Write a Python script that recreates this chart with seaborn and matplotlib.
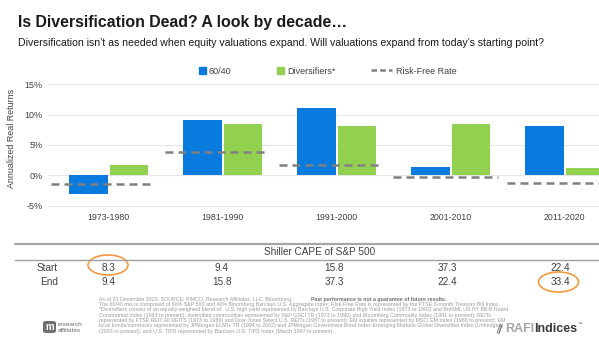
import matplotlib
matplotlib.use("Agg")
import matplotlib.pyplot as plt
import matplotlib.transforms as mtrans
from matplotlib.patches import Patch, Ellipse, FancyBboxPatch
from matplotlib.lines import Line2D
from matplotlib.ticker import FuncFormatter
import seaborn as sns
import pandas as pd

# ---------------- data ----------------
decades = ["1973-1980", "1981-1990", "1991-2000", "2001-2010", "2011-2020"]
sixty_forty = [-3.0, 9.2, 11.1, 1.4, 8.2]
diversifiers = [1.7, 8.5, 8.1, 8.5, 1.2]
risk_free = [-1.5, 3.9, 1.7, -0.3, -1.2]
cape_start = ["8.3", "9.4", "15.8", "37.3", "22.4"]
cape_end = ["9.4", "15.8", "37.3", "22.4", "33.4"]
series_names = ["60/40", "Diversifiers*"]
yticks = [-5, 0, 5, 10, 15]

BLUE = "#0A7BDE"
GREEN = "#92D050"
GRAY_RF = "#808080"
TXT = "#404040"
ORANGE = "#F39A3C"

df = pd.DataFrame({
    "decade": decades * 2,
    "value": sixty_forty + diversifiers,
    "series": [series_names[0]] * len(decades) + [series_names[1]] * len(decades),
})

sns.set_theme(style="white")
plt.rcParams["font.family"] = ["Liberation Sans", "DejaVu Sans"]

W, H = 599, 345
fig = plt.figure(figsize=(W / 100, H / 100), dpi=100)
fig.patch.set_facecolor("white")

def fx(px):
    return px / W

def fy(py):
    return 1 - py / H

ax_left, ax_right, ax_top, ax_bot = 48, 599, 84.3, 205.7
ax = fig.add_axes([fx(ax_left), fy(ax_bot), fx(ax_right - ax_left), (ax_bot - ax_top) / H])

sns.barplot(data=df, x="decade", y="value", hue="series", palette=[BLUE, GREEN],
            width=0.71, gap=0.05, saturation=1, legend=False, ax=ax,
            edgecolor="none", linewidth=0)

for i, v in enumerate(risk_free):
    ax.hlines(v, i - 0.51, i + 0.41, colors=GRAY_RF, linewidth=1.8,
              linestyles=[(0, (3.2, 2.0))], zorder=4)

ax.set_xlim(-0.532, 4.30)
ax.set_ylim(-5, 15)
ax.set_yticks(yticks)
ax.yaxis.set_major_formatter(FuncFormatter(lambda v, p: f"{int(v)}%"))
ax.yaxis.grid(True, color="#E6E6E6", linewidth=0.8)
ax.set_axisbelow(True)
for s in ax.spines.values():
    s.set_visible(False)
ax.tick_params(axis="both", length=0, colors=TXT)
ax.tick_params(axis="y", labelsize=6.5, pad=4)
ax.tick_params(axis="x", labelsize=6.3, pad=5)
ax.set_xlabel("")
ax.set_ylabel("")
for gl in ax.get_ygridlines():
    gl.set_clip_on(False)

fig.text(fx(12), fy(138), "Annualized Real Returns", rotation=90, ha="center", va="center",
         fontsize=6.4, color=TXT)

# ---------------- titles ----------------
fig.text(fx(18), fy(22), "Is Diversification Dead? A look by decade\u2026", fontsize=11.4,
         fontweight="bold", color="#1A1A1A", ha="left", va="center")
fig.text(fx(18), fy(43), "Diversification isn\u2019t as needed when equity valuations expand. "
         "Will valuations expand from today\u2019s starting point?", fontsize=7.6,
         color="#1A1A1A", ha="left", va="center")

# ---------------- legend ----------------
leg_y = fy(71)
common = dict(frameon=False, borderaxespad=0, borderpad=0, fontsize=6.5,
              labelcolor=TXT, loc="center left")
fig.legend(handles=[Patch(color=BLUE)], labels=[series_names[0]],
           bbox_to_anchor=(fx(199), leg_y), handlelength=0.75, handleheight=0.75,
           handletextpad=0.35, **common)
fig.legend(handles=[Patch(color=GREEN)], labels=[series_names[1]],
           bbox_to_anchor=(fx(277), leg_y), handlelength=0.75, handleheight=0.75,
           handletextpad=0.35, **common)
fig.legend(handles=[Line2D([], [], color=GRAY_RF, lw=1.8, linestyle=(0, (2.2, 1.3)))],
           labels=["Risk-Free Rate"], bbox_to_anchor=(fx(371), leg_y),
           handlelength=2.3, handletextpad=0.45, **common)

# ---------------- CAPE table ----------------
fig.add_artist(Line2D([fx(15), 1], [fy(244), fy(244)], color="#A6A6A6", lw=1.6))
fig.add_artist(Line2D([fx(15), 1], [fy(260), fy(260)], color="#A0A0A0", lw=1.0))
fig.text(fx(320), fy(252), "Shiller CAPE of S&P 500", ha="center", va="center",
         fontsize=7.2, color=TXT)
blend = mtrans.blended_transform_factory(ax.transData, fig.transFigure)
fig.text(fx(58), fy(268), "Start", ha="right", va="center", fontsize=7.2, color=TXT)
fig.text(fx(58), fy(282), "End", ha="right", va="center", fontsize=7.2, color=TXT)
for i in range(len(decades)):
    fig.text(i * 0.99, fy(268), cape_start[i], transform=blend, ha="center",
             va="center", fontsize=7.2, color=TXT)
    fig.text(i * 0.99, fy(282), cape_end[i], transform=blend, ha="center",
             va="center", fontsize=7.2, color=TXT)

fig.add_artist(Ellipse((fx(108), fy(265)), fx(40), 20 / H, transform=fig.transFigure,
                       fill=False, edgecolor=ORANGE, lw=1.2))
fig.add_artist(Ellipse((fx(558.5), fy(282)), fx(40), 20 / H, transform=fig.transFigure,
                       fill=False, edgecolor=ORANGE, lw=1.2))

# ---------------- footer ----------------
foot = [
    "As of 31 December 2020. SOURCE: PIMCO, Research Affiliates, LLC, Bloomberg. ",
    "The 60/40 mix is comprised of 60% S&P 500 and 40% Bloomberg Barclays U.S. Aggregate Index; Risk-Free Rate is represented by the FTSE 3-month Treasury Bill Index.",
    "*Diversifiers consist of an equally-weighted blend of:  U.S. high yield represented by Barclays U.S. Corporate High Yield Index (1973 to 1992) and BofAML US HY BB-B Rated",
    "Constrained Index (1993 to present); diversified commodities represented by S&P GSCI TR (1973 to 1990) and Bloomberg Commodity Index (1991 to present); REITs",
    "represented by FTSE REIT All REITS (1973 to 1986) and Dow Jones Select U.S. REITs (1987 to present); EM equities represented by MSCI EM Index (1988 to present); EM",
    "local bonds/currencies represented by JPMorgan ELMI+ TR (1994 to 2002) and JPMorgan Government Bond Index-Emerging Markets Global Diversified Index (Unhedged)",
    "(2003 to present); and U.S. TIPS represented by Barclays U.S. TIPS Index (March 1997 to present).",
]
FOOT_C = "#9A9A9A"
FOOT_FS = 3.75
for k, line in enumerate(foot):
    fig.text(fx(99), fy(299 + k * 5.35), line, fontsize=FOOT_FS, color=FOOT_C,
             ha="left", va="center")
fig.text(fx(311), fy(299), "Past performance is not a guarantee of future results.",
         fontsize=FOOT_FS, color="#6E6E6E", fontweight="bold", ha="left", va="center")

# logos
renderer = fig.canvas.get_renderer()
inv = fig.transFigure.inverted()
fig.add_artist(FancyBboxPatch((fx(43), fy(333)), fx(13), 12 / H,
                              boxstyle="round,pad=0,rounding_size=0.006",
                              transform=fig.transFigure, facecolor="#6D6E71",
                              edgecolor="none"))
fig.text(fx(49.5), fy(327.5), "m", fontsize=7, color="white", fontweight="bold",
         ha="center", va="center")
fig.text(fx(58), fy(324), "research", fontsize=4.6, color="#6D6E71", ha="left", va="center")
fig.text(fx(58), fy(331), "affiliates", fontsize=4.6, color="#6D6E71", ha="left", va="center")

fig.text(fx(495), fy(329), "\u2225", fontsize=7, color="#6D6E71", ha="left", va="center",
         fontweight="bold", rotation=-20)
t_rafi = fig.text(fx(505), fy(329), "RAFI", fontsize=9, color="#A6A6A6", fontweight="bold",
                  ha="left", va="center")
bb = t_rafi.get_window_extent(renderer)
x_r = inv.transform((bb.x1, bb.y0))[0]
t_ind = fig.text(x_r + fx(0.3), fy(329), "Indices", fontsize=9, color="#3A3A3A",
                 fontweight="bold", ha="left", va="center")
bb = t_ind.get_window_extent(renderer)
x_i = inv.transform((bb.x1, bb.y0))[0]
fig.text(x_i + fx(0.5), fy(324.5), "\u2122", fontsize=3.2, color="#3A3A3A", ha="left",
         va="center")

fig.savefig("out.png", dpi=100, facecolor="white")
